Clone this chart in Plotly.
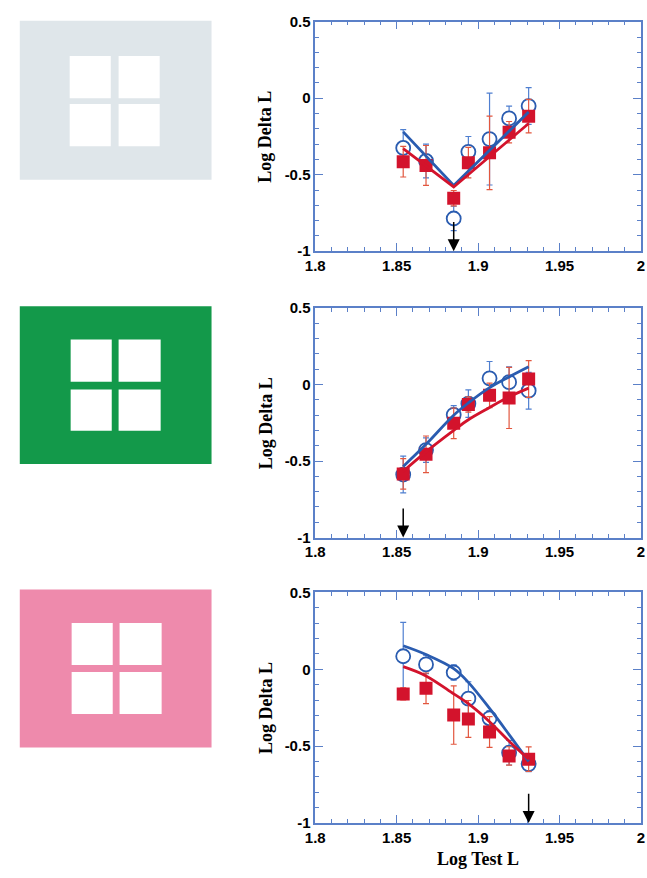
import plotly.graph_objects as go

# ---------------- data ----------------
x_test = [1.854, 1.868, 1.885, 1.894, 1.907, 1.919, 1.931]

# panel 1 (grey surround)
p1_blue = [-0.325, -0.41, -0.786, -0.35, -0.267, -0.132, -0.051]
p1_blue_err = [0.12, 0.11, 0.08, 0.10, 0.30, 0.08, 0.12]
p1_red = [-0.415, -0.439, -0.653, -0.421, -0.357, -0.222, -0.117]
p1_red_err = [0.10, 0.13, 0.05, 0.10, 0.24, 0.07, 0.11]
p1_fit_x = [1.854, 1.885, 1.931]
p1_blue_fit = [-0.22, -0.57, -0.09]
p1_red_fit = [-0.33, -0.58, -0.165]
p1_arrow = 1.885

# panel 2 (green surround)
p2_blue = [-0.588, -0.428, -0.198, -0.125, 0.041, 0.016, -0.04]
p2_blue_err = [0.12, 0.08, 0.06, 0.09, 0.11, 0.10, 0.12]
p2_red = [-0.584, -0.456, -0.253, -0.13, -0.07, -0.087, 0.037]
p2_red_err = [0.10, 0.12, 0.10, 0.05, 0.08, 0.20, 0.12]
p2_fit_x = x_test
p2_blue_fit = [-0.535, -0.39, -0.2, -0.12, -0.02, 0.05, 0.116]
p2_red_fit = [-0.567, -0.44, -0.3, -0.23, -0.15, -0.08, -0.023]
p2_arrow = 1.854

# panel 3 (pink surround)
p3_blue = [0.085, 0.032, -0.021, -0.191, -0.319, -0.543, -0.617]
p3_blue_err = [0.22, 0.06, 0.05, 0.11, 0.05, 0.08, 0.05]
p3_red = [-0.16, -0.124, -0.298, -0.323, -0.408, -0.564, -0.585]
p3_red_err = [0.04, 0.10, 0.19, 0.12, 0.10, 0.06, 0.08]
p3_fit_x = x_test
p3_blue_fit = [0.153, 0.096, 0.004, -0.085, -0.255, -0.425, -0.6]
p3_red_fit = [0.017, -0.043, -0.16, -0.224, -0.341, -0.468, -0.585]
p3_arrow = 1.931

x_tickvals = [1.8, 1.85, 1.9, 1.95, 2.0]
x_ticktext = ["1.8", "1.85", "1.9", "1.95", "2"]
y_tickvals = [0.5, 0, -0.5, -1]
y_ticktext = ["0.5", "0", "-0.5", "-1"]

swatch_colors = ["#dfe6ea", "#13994a", "#ee8aac"]

panels = [
    (p1_blue, p1_blue_err, p1_red, p1_red_err, p1_fit_x, p1_blue_fit, p1_red_fit, p1_arrow),
    (p2_blue, p2_blue_err, p2_red, p2_red_err, p2_fit_x, p2_blue_fit, p2_red_fit, p2_arrow),
    (p3_blue, p3_blue_err, p3_red, p3_red_err, p3_fit_x, p3_blue_fit, p3_red_fit, p3_arrow),
]

# ---------------- layout geometry (page pixels) ----------------
W, H = 647, 878
plot_x = (312, 645)
plot_y = [(13, 247), (305, 539), (595, 830)]
swatch_y = [(12, 174), (303, 464), (592, 753)]
swatch_x = (10, 206)
win_x = [[(61, 103), (111, 153)], [(62, 104), (111, 154)], [(63, 105), (112, 155)]]
win_y = [[(48, 91), (97, 140)], [(337, 380), (388, 430)], [(626, 669), (676, 719)]]

BLUE = "#2a5cb0"
BLUE_ERR = "#4f7fd0"
RED = "#d3132c"
RED_ERR = "#e2573f"
AXIS = "#5b80c8"

fig = go.Figure()
shapes = []
annotations = []


def px_x(v):
    return v / W


def px_y(v):
    return 1 - v / H


for i, (by, be, ry, re, fx, bf, rf, arr) in enumerate(panels):
    n = "" if i == 0 else str(i + 1)
    xa, ya = "x" + n, "y" + n
    shape_kind = "linear" if i == 0 else "spline"
    fig.add_trace(go.Scatter(
        x=x_test, y=by, mode="markers", xaxis=xa, yaxis=ya,
        marker=dict(symbol="circle", size=14, color="white", line=dict(width=1.8, color=BLUE)),
        error_y=dict(type="data", array=be, color=BLUE_ERR, thickness=1.2, width=3),
        showlegend=False))
    fig.add_trace(go.Scatter(
        x=x_test, y=ry, mode="markers", xaxis=xa, yaxis=ya,
        marker=dict(symbol="square", size=13, color=RED, line=dict(width=0)),
        error_y=dict(type="data", array=re, color=RED_ERR, thickness=1.2, width=3),
        showlegend=False))
    fig.add_trace(go.Scatter(
        x=fx, y=bf, mode="lines", xaxis=xa, yaxis=ya,
        line=dict(color=BLUE, width=2.8, shape=shape_kind), showlegend=False))
    fig.add_trace(go.Scatter(
        x=fx, y=rf, mode="lines", xaxis=xa, yaxis=ya,
        line=dict(color=RED, width=2.8, shape=shape_kind), showlegend=False))

    y0, y1 = plot_y[i]
    axis_common = dict(showline=True, linecolor=AXIS, linewidth=1.5, mirror="allticks",
                       ticks="inside", tickcolor=AXIS, tickwidth=1.2, ticklen=8,
                       showgrid=False, zeroline=False, ticklabeloverflow="allow",
                       tickfont=dict(family="Liberation Sans, Arial", size=15, color="black", weight="bold"))
    fig.layout["xaxis" + n] = dict(
        domain=[px_x(plot_x[0]), px_x(plot_x[1])], anchor=ya, range=[1.8, 2.0],
        tickvals=x_tickvals, ticktext=x_ticktext,
        minor=dict(dtick=0.01, tick0=1.8, ticks="inside", ticklen=4, tickcolor=AXIS, tickwidth=1.2),
        **axis_common)
    fig.layout["yaxis" + n] = dict(
        domain=[px_y(y1), px_y(y0)], anchor=xa, range=[-1, 0.5],
        tickvals=y_tickvals, ticktext=y_ticktext,
        minor=dict(dtick=0.1, tick0=0, ticks="inside", ticklen=4, tickcolor=AXIS, tickwidth=1.2),
        **axis_common)

    annotations.append(dict(
        x=arr, y=-1, ax=arr, ay=-0.8, xref=xa, yref=ya, axref=xa, ayref=ya,
        showarrow=True, arrowhead=2, arrowsize=1.6, arrowwidth=1.5, arrowcolor="black",
        standoff=0, startstandoff=0, text=""))
    annotations.append(dict(
        x=px_x(261), y=px_y((y0 + y1) / 2), xref="paper", yref="paper",
        text="Log Delta L", textangle=-90, showarrow=False,
        font=dict(family="Liberation Serif, Times New Roman", size=18, color="black", weight="bold"),
        xanchor="center", yanchor="middle"))

    # swatch
    sy0, sy1 = swatch_y[i]
    shapes.append(dict(type="rect", xref="paper", yref="paper",
                       x0=px_x(swatch_x[0]), x1=px_x(swatch_x[1]), y0=px_y(sy1), y1=px_y(sy0),
                       fillcolor=swatch_colors[i], line=dict(width=0), layer="below"))
    for wx in win_x[i]:
        for wy in win_y[i]:
            shapes.append(dict(type="rect", xref="paper", yref="paper",
                               x0=px_x(wx[0]), x1=px_x(wx[1]), y0=px_y(wy[1]), y1=px_y(wy[0]),
                               fillcolor="white", line=dict(width=0), layer="below"))

annotations.append(dict(
    x=px_x(478), y=px_y(867), xref="paper", yref="paper", text="Log Test L", showarrow=False,
    font=dict(family="Liberation Serif, Times New Roman", size=18, color="black", weight="bold"),
    xanchor="center", yanchor="middle"))

fig.update_layout(
    width=W, height=H, margin=dict(l=0, r=0, t=0, b=0),
    paper_bgcolor="white", plot_bgcolor="white",
    shapes=shapes, annotations=annotations)

fig.write_html(
    "out.html",
    config={"displayModeBar": False},
    post_script="document.body.style.margin='0px';"
                "document.documentElement.style.overflow='hidden';"
                "document.body.style.overflow='hidden';")
